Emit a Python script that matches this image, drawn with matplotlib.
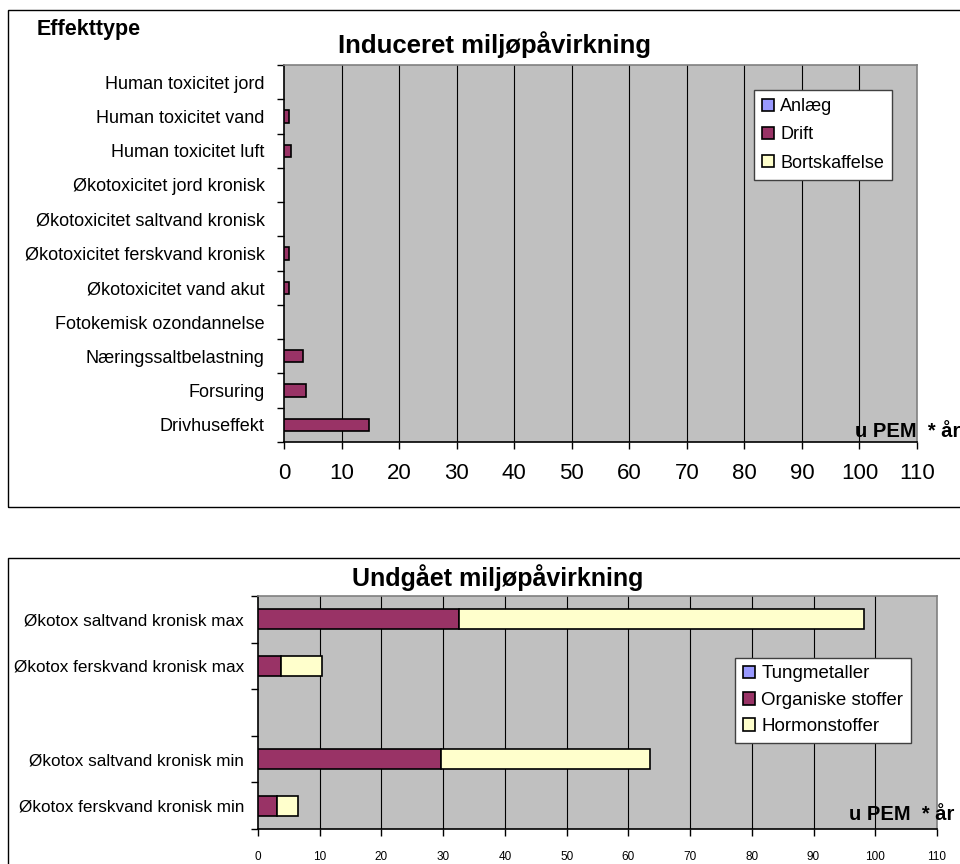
import numpy as np
import matplotlib
matplotlib.use('Agg')
import matplotlib.pyplot as plt
from matplotlib.patches import Rectangle, Patch

plt.rcParams['font.family'] = ['Liberation Sans', 'DejaVu Sans']

# ---- data: induced impact (top chart) ----
effekt_labels = ['Human toxicitet jord', 'Human toxicitet vand', 'Human toxicitet luft',
                 'Økotoxicitet jord kronisk', 'Økotoxicitet saltvand kronisk',
                 'Økotoxicitet ferskvand kronisk', 'Økotoxicitet vand akut',
                 'Fotokemisk ozondannelse', 'Næringssaltbelastning', 'Forsuring',
                 'Drivhuseffekt']
anlaeg = [0, 0, 0, 0, 0, 0, 0, 0, 0, 0, 0]
drift = [0, 0.8, 1.15, 0, 0, 0.8, 0.8, 0, 3.25, 3.9, 14.8]
bortskaffelse = [0, 0, 0, 0, 0, 0, 0, 0, 0, 0, 0]
top_series = ['Anlæg', 'Drift', 'Bortskaffelse']

# ---- data: avoided impact (bottom chart) ----
undgaaet_labels = ['Økotox saltvand kronisk max', 'Økotox ferskvand kronisk max', '',
                   'Økotox saltvand kronisk min', 'Økotox ferskvand kronisk min']
tungmetaller = [0, 0, 0, 0, 0]
organiske = [32.6, 3.8, 0, 29.7, 3.0]
hormon = [65.6, 6.6, 0, 33.8, 3.5]
bottom_series = ['Tungmetaller', 'Organiske stoffer', 'Hormonstoffer']

x_ticks = list(range(0, 111, 10))
colors = ['#9999FF', '#993366', '#FFFFCC']
grey = '#C0C0C0'

W, H = 960, 864
fig = plt.figure(figsize=(W / 100, H / 100), dpi=100)


def px_axes(l, t, r, b):
    return fig.add_axes([l / W, 1 - b / H, (r - l) / W, (b - t) / H])


def ftext(x, y, s, **kw):
    fig.text(x / W, 1 - y / H, s, **kw)


# outer chart boxes
fig.patches.append(Rectangle((8 / W, 1 - 507 / H), 990 / W, 497 / H, transform=fig.transFigure,
                             fill=False, edgecolor='black', lw=1.0))
fig.patches.append(Rectangle((8 / W, -0.1), 990 / W, 0.1 + 1 - 558 / H, transform=fig.transFigure,
                             fill=False, edgecolor='black', lw=1.0))


def style_axes(ax, labels, label_size, xtick_size, xpad, ypad):
    n = len(labels)
    ax.set_facecolor(grey)
    ax.set_xlim(0, 110)
    ax.set_ylim(n - 0.5, -0.5)
    ax.set_xticks(x_ticks)
    ax.set_xticklabels([str(v) for v in x_ticks], fontsize=xtick_size)
    ax.set_yticks(np.arange(n + 1) - 0.5)
    ax.set_yticklabels([])
    ax.set_yticks(np.arange(n), minor=True)
    ax.set_yticklabels(labels, minor=True, fontsize=label_size)
    ax.tick_params(axis='y', which='minor', length=0, pad=ypad)
    ax.tick_params(axis='y', which='major', length=5, width=1, direction='out')
    ax.tick_params(axis='x', length=5, width=1, direction='out', pad=xpad)
    for v in x_ticks[1:-1]:
        ax.axvline(v, color='black', lw=0.8, zorder=1)
    ax.spines['left'].set_color('black')
    ax.spines['bottom'].set_color('black')
    ax.spines['top'].set_color('#808080')
    ax.spines['right'].set_color('#808080')
    for s in ax.spines.values():
        s.set_linewidth(1.2)


def stacked(ax, series_vals, height):
    y = np.arange(len(series_vals[0]))
    left = np.zeros(len(y))
    for vals, c in zip(series_vals, colors):
        vals = np.array(vals, dtype=float)
        mask = vals > 0
        ax.barh(y[mask], vals[mask], left=left[mask], height=height, color=c,
                edgecolor='black', lw=1.2, zorder=3)
        left += vals


def add_legend(ax, labels, x, y, size, spacing, bpad):
    handles = [Patch(facecolor=c, edgecolor='black', lw=1.2) for c in colors]
    leg = ax.legend(handles, labels, loc='upper left', bbox_to_anchor=(x / W, 1 - y / H),
                    bbox_transform=fig.transFigure, fontsize=size, frameon=True, fancybox=False,
                    framealpha=1, facecolor='white',
                    handlelength=0.65, handleheight=0.65, handletextpad=0.35, borderpad=bpad,
                    labelspacing=spacing, borderaxespad=0)
    leg.get_frame().set_edgecolor('#404040')
    leg.get_frame().set_linewidth(1.0)


# top chart
ax1 = px_axes(284, 65, 917, 442)
style_axes(ax1, effekt_labels, 13, 16, 10, 14)
stacked(ax1, [anlaeg, drift, bortskaffelse], 0.36)
add_legend(ax1, top_series, 754, 90, 13, 0.62, 0.45)
ftext(495, 45, 'Induceret miljøpåvirkning', fontsize=18.5, fontweight='bold', ha='center', va='center')
ftext(37, 30, 'Effekttype', fontsize=15.5, fontweight='bold', ha='left', va='center')
ftext(855, 437, 'u PEM  * år', fontsize=14.5, fontweight='bold', ha='left', va='baseline')

# bottom chart
ax2 = px_axes(258, 596, 937, 829)
style_axes(ax2, undgaaet_labels, 12.3, 8.5, 11, 10)
stacked(ax2, [tungmetaller, organiske, hormon], 0.43)
add_legend(ax2, bottom_series, 735, 658, 13.5, 0.5, 0.4)
ftext(498, 578, 'Undgået miljøpåvirkning', fontsize=18, fontweight='bold', ha='center', va='center')
ftext(849, 820, 'u PEM  * år', fontsize=14.5, fontweight='bold', ha='left', va='baseline')

fig.savefig('out.png', dpi=100)
